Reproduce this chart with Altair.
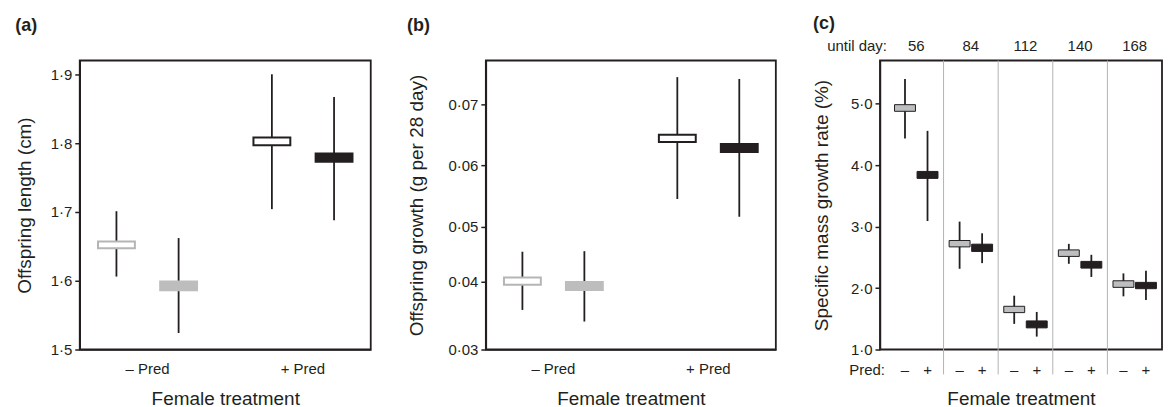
import altair as alt
import pandas as pd

FONT = "Liberation Sans"
INK = "#231f20"

# ---------------- data ----------------
treatments = ["– Pred", "+ Pred"]
groups = ["Group 1", "Group 2"]

ab_treat = ["– Pred", "– Pred", "+ Pred", "+ Pred"]
ab_group = ["Group 1", "Group 2", "Group 1", "Group 2"]

# (a) offspring length (cm): box = mean band, whisker = interval
a_box_lo = [1.647, 1.586, 1.797, 1.773]
a_box_hi = [1.657, 1.599, 1.808, 1.785]
a_ci_lo = [1.606, 1.524, 1.704, 1.688]
a_ci_hi = [1.701, 1.662, 1.900, 1.867]

# (b) offspring growth (g per 28 day)
b_box_lo = [0.0395, 0.0387, 0.0638, 0.0622]
b_box_hi = [0.0407, 0.0399, 0.0650, 0.0635]
b_ci_lo = [0.0358, 0.0341, 0.0545, 0.0516]
b_ci_hi = [0.0454, 0.0455, 0.0744, 0.0741]

# (c) specific mass growth rate (%)
days = [56, 84, 112, 140, 168]
pred_signs = ["–", "+"]
c_day = [56, 56, 84, 84, 112, 112, 140, 140, 168, 168]
c_pred = ["–", "+", "–", "+", "–", "+", "–", "+", "–", "+"]
c_box_lo = [4.874, 3.783, 2.669, 2.595, 1.600, 1.352, 2.514, 2.324, 2.011, 1.989]
c_box_hi = [4.982, 3.896, 2.773, 2.713, 1.703, 1.465, 2.620, 2.433, 2.118, 2.092]
c_ci_lo = [4.43, 3.09, 2.313, 2.405, 1.417, 1.21, 2.394, 2.18, 1.865, 1.805]
c_ci_hi = [5.40, 4.556, 3.08, 2.89, 1.875, 1.611, 2.718, 2.54, 2.238, 2.28]

H = 290
dot_fmt = "replace(format(datum.value, '{f}'), '.', '·')"

keys = [t + "|" + g for t in treatments for g in groups]
fill_range = ["#ffffff", "#bdbdbd", "#ffffff", INK]
stroke_range = ["#b5b5b5", "#bdbdbd", INK, INK]


def ab_panel(lo, hi, clo, chi, yscale, yvalues, fmt, ytitle, letter, width, tpad):
    df = pd.DataFrame({"treat": ab_treat, "group": ab_group,
                       "lo": lo, "hi": hi, "clo": clo, "chi": chi})
    base = alt.Chart(df).transform_calculate(key="datum.treat + '|' + datum.group")
    x = alt.X("treat:N", sort=treatments,
              scale=alt.Scale(domain=treatments, paddingInner=0.2, paddingOuter=0.036),
              axis=alt.Axis(title="Female treatment", ticks=False, labelAngle=0,
                            labelPadding=12, titlePadding=13.5))
    xo = alt.XOffset("group:N", sort=groups,
                     scale=alt.Scale(domain=groups, paddingInner=0, paddingOuter=0))
    yaxis = alt.Axis(title=ytitle, values=yvalues, labelExpr=dot_fmt.format(f=fmt),
                     tickSize=5, labelPadding=3, titlePadding=tpad)
    whisk = base.mark_rule(color=INK, strokeWidth=1.8).encode(
        x=x, xOffset=xo,
        y=alt.Y("clo:Q", scale=yscale, axis=yaxis), y2="chi:Q")
    box = base.mark_bar(width=37, strokeWidth=2).encode(
        x=x, xOffset=xo,
        y=alt.Y("lo:Q", scale=yscale, axis=yaxis), y2="hi:Q",
        fill=alt.Fill("key:N", scale=alt.Scale(domain=keys, range=fill_range), legend=None),
        stroke=alt.Stroke("key:N", scale=alt.Scale(domain=keys, range=stroke_range), legend=None))
    return alt.layer(whisk, box).properties(
        width=width, height=H,
        title=alt.TitleParams(letter, anchor="start", frame="bounds", fontSize=18,
                              fontWeight="bold", font=FONT, color=INK,
                              baseline="alphabetic", offset=12))


panel_a = ab_panel(a_box_lo, a_box_hi, a_ci_lo, a_ci_hi,
                   alt.Scale(domain=[1.5, 1.92], nice=False, zero=False),
                   [1.5, 1.6, 1.7, 1.8, 1.9], ".1f",
                   "Offspring length (cm)", "(a)", 292, 16)

panel_b = ab_panel(b_box_lo, b_box_hi, b_ci_lo, b_ci_hi,
                   alt.Scale(domain=[0.03, 0.04, 0.05, 0.06, 0.07, 0.0771],
                             range=[290, 221.5, 166.6, 105.2, 43.8, 0],
                             nice=False, zero=False),
                   [0.03, 0.04, 0.05, 0.06, 0.07], ".2f",
                   "Offspring growth (g per 28 day)", "(b)", 291, 22)

# ---------------- panel c ----------------
cdf = pd.DataFrame({"day": c_day, "pred": c_pred, "lo": c_box_lo, "hi": c_box_hi,
                    "clo": c_ci_lo, "chi": c_ci_hi})
cbase = alt.Chart(cdf)
cx = alt.X("day:O", sort=days,
           scale=alt.Scale(domain=days, paddingInner=0, paddingOuter=0.0821, align=1),
           axis=alt.Axis(title="Female treatment", labels=False, ticks=False,
                         domain=False, titlePadding=40.5))
cxo = alt.XOffset("pred:N", sort=pred_signs,
                  scale=alt.Scale(domain=pred_signs, paddingInner=0, paddingOuter=0.2124))
cyscale = alt.Scale(domain=[1.0, 5.7], nice=False, zero=False)
cyaxis = alt.Axis(title="Specific mass growth rate (%)", values=[1, 2, 3, 4, 5],
                  labelExpr=dot_fmt.format(f=".1f"), tickSize=5, labelPadding=3,
                  titlePadding=18.5)

sep = alt.Chart(pd.DataFrame({"day": days[1:]})).mark_rule(
    color="#b3b3b3", strokeWidth=1).encode(
    x=alt.X("day:O", sort=days, bandPosition=0),
    y=alt.value(0), y2=alt.value(H + 25))

cwhisk = cbase.mark_rule(color=INK, strokeWidth=1.8).encode(
    x=cx, xOffset=cxo, y=alt.Y("clo:Q", scale=cyscale, axis=cyaxis), y2="chi:Q")
cbox = cbase.mark_bar(width=21, strokeWidth=1).encode(
    x=cx, xOffset=cxo, y=alt.Y("lo:Q", scale=cyscale, axis=cyaxis), y2="hi:Q",
    fill=alt.Fill("pred:N", scale=alt.Scale(domain=pred_signs, range=["#bcbec0", INK]),
                  legend=None),
    stroke=alt.value(INK))

signs = cbase.mark_text(font=FONT, fontSize=15, color=INK, baseline="alphabetic").encode(
    x=cx, xOffset=cxo, y=alt.value(H + 25.5), text="pred:N")

day_labels = alt.Chart(pd.DataFrame({"day": days})).mark_text(
    font=FONT, fontSize=15, color=INK, baseline="alphabetic").encode(
    x=alt.X("day:O", sort=days), y=alt.value(-10), text="day:O")

until = alt.Chart(pd.DataFrame({"t": ["until day:"]})).mark_text(
    font=FONT, fontSize=15, color=INK, baseline="alphabetic", align="right").encode(
    x=alt.value(7), y=alt.value(-10), text="t:N")

pred_lab = alt.Chart(pd.DataFrame({"t": ["Pred:"]})).mark_text(
    font=FONT, fontSize=15, color=INK, baseline="alphabetic", align="right").encode(
    x=alt.value(5), y=alt.value(H + 25.5), text="t:N")

panel_c = alt.layer(sep, cwhisk, cbox, signs, day_labels, until, pred_lab).properties(
    width=283, height=H,
    title=alt.TitleParams("(c)", anchor="start", frame="bounds", fontSize=18,
                          fontWeight="bold", font=FONT, color=INK,
                          baseline="alphabetic", offset=-8))

chart = alt.hconcat(panel_a, panel_b, panel_c, spacing=34.5).resolve_scale(
    fill="independent", stroke="independent", xOffset="independent"
).properties(
    padding={"left": 6, "top": 5, "right": 0, "bottom": 0}
).configure_view(stroke=INK, strokeWidth=1.8).configure_axis(
    grid=False, domainColor=INK, domainWidth=1.5, tickColor=INK, tickWidth=1.5,
    labelFont=FONT, labelFontSize=15, labelColor=INK,
    titleFont=FONT, titleFontSize=19, titleFontWeight="normal", titleColor=INK)

chart.save("out.html", embed_options={"renderer": "svg", "actions": False})
